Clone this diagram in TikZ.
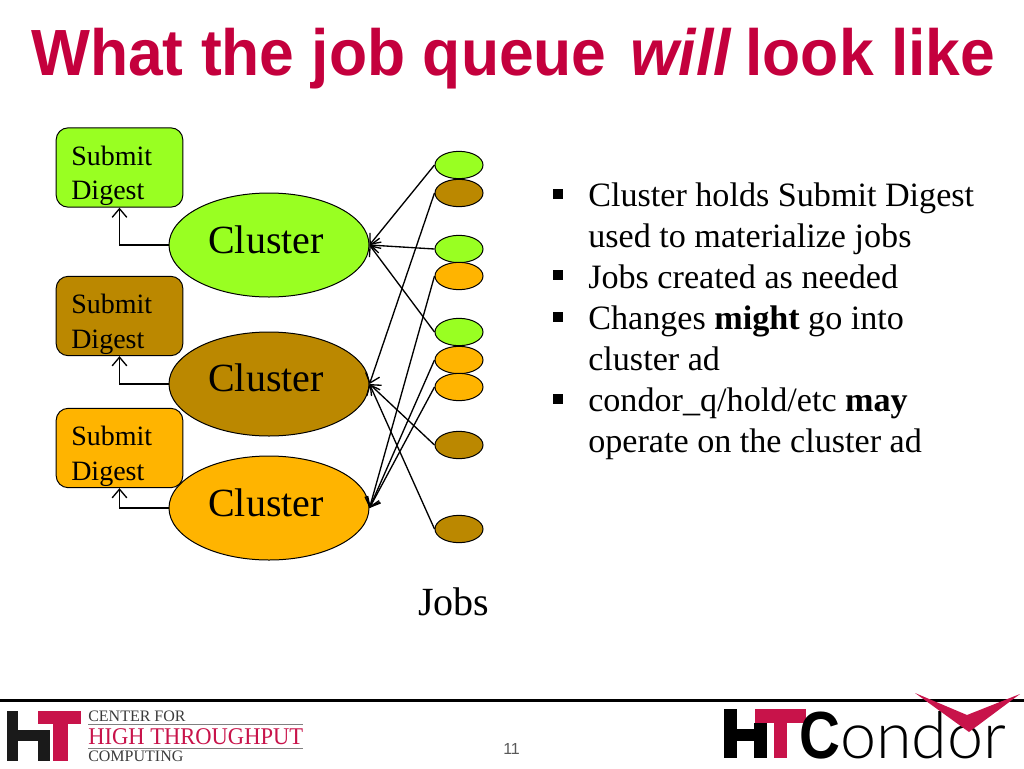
\documentclass[tikz,border=0pt]{standalone}
\usepackage{fontspec}
\setmainfont{Liberation Serif}
\newfontfamily\sansf{Liberation Sans}
\newfontfamily\lightf{Lato Light}
\usetikzlibrary{shapes.geometric,arrows.meta}
\definecolor{lime}{HTML}{99FF22}
\definecolor{ochre}{HTML}{BB8800}
\definecolor{amber}{HTML}{FFB400}
\definecolor{crimson}{HTML}{C4003D}
\definecolor{logored}{HTML}{C8134A}
\definecolor{logoblack}{HTML}{1A1A1A}
\tikzset{
 job/.style={ellipse,draw=black,line width=.75pt,minimum width=36pt,minimum height=20.5pt,inner sep=0pt},
 cluster/.style={ellipse,draw=black,line width=.75pt,minimum width=150pt,minimum height=78pt,inner sep=0pt},
 digest/.style={rectangle,rounded corners=9pt,draw=black,line width=.75pt,minimum width=95pt,minimum height=59.5pt,inner sep=0pt},
 txt/.style={anchor=base west,inner sep=0pt},
 dtext/.style={txt,font=\fontsize{21}{21}\selectfont},
 ctext/.style={txt,font=\fontsize{30}{30}\selectfont},
 btext/.style={txt,font=\fontsize{25.6}{25.6}\selectfont},
 bsq/.style={rectangle,fill=black,minimum size=7.5pt,inner sep=0pt},
 conn/.style={line width=1pt,-{Straight Barb[length=6.5pt,width=11pt,line width=1pt]}},
 logotxt/.style={txt,font=\fontsize{12}{12}\selectfont},
}
\begin{document}
\begin{tikzpicture}[x=0.75pt,y=-0.75pt]
\useasboundingbox (0,0) rectangle (1024,768);
\fill[white] (0,0) rectangle (1024,768);
% title
\node[txt,text=crimson,font=\sansf\bfseries\fontsize{49}{49}\selectfont] (title) at (31,75) {\scalebox{.955}[1]{What the job queue\hspace{5pt} \textit{will}\hspace{-3pt} look like}};
% digests
\node[digest,fill=lime] (d1) at (119.5,167.5) {};
\node[digest,fill=ochre] (d2) at (119.5,316) {};
\node[digest,fill=amber] (d3) at (119.5,448) {};
\node[dtext] (d1a) at (71,165) {Submit};
\node[dtext] (d1b) at (71,199) {Digest};
\node[dtext] (d2a) at (71,313) {Submit};
\node[dtext] (d2b) at (71,348) {Digest};
\node[dtext] (d3a) at (71,445) {Submit};
\node[dtext] (d3b) at (71,480) {Digest};
% clusters
\node[cluster,fill=lime] (c1) at (269,245) {};
\node[cluster,fill=ochre] (c2) at (269,384) {};
\node[cluster,fill=amber] (c3) at (269,508) {};
\node[ctext] (c1t) at (208,253) {Cluster};
\node[ctext] (c2t) at (208,391) {Cluster};
\node[ctext] (c3t) at (208,516) {Cluster};
% jobs
\node[job,fill=lime] (j1) at (459,165) {};
\node[job,fill=ochre] (j2) at (459,193) {};
\node[job,fill=lime] (j3) at (459,249) {};
\node[job,fill=amber] (j4) at (459,276) {};
\node[job,fill=lime] (j5) at (459,332) {};
\node[job,fill=amber] (j6) at (459,360) {};
\node[job,fill=amber] (j7) at (459,387) {};
\node[job,fill=ochre] (j8) at (459,445) {};
\node[job,fill=ochre] (j9) at (459,529) {};
\node[ctext] (jobs) at (418,615) {Jobs};
% connectors
\draw[conn] (j1.west) -- (c1.east);
\draw[conn] (j3.west) -- (c1.east);
\draw[conn] (j5.west) -- (c1.east);
\draw[conn] (j2.west) -- (c2.east);
\draw[conn] (j8.west) -- (c2.east);
\draw[conn] (j9.west) -- (c2.east);
\draw[conn] (j4.west) -- (c3.east);
\draw[conn] (j6.west) -- (c3.east);
\draw[conn] (j7.west) -- (c3.east);
\draw[conn] (c1.west) -| (d1.south);
\draw[conn] (c2.west) -| (d2.south);
\draw[conn] (c3.west) -| (d3.south);
% bullets
\node[bsq] (b1) at (557.5,193.5) {};
\node[bsq] (b2) at (557.5,275) {};
\node[bsq] (b3) at (557.5,316.5) {};
\node[bsq] (b4) at (557.5,398.5) {};
\node[btext] (l1) at (588,206) {Cluster holds Submit Digest};
\node[btext] (l2) at (588,247) {used to materialize jobs};
\node[btext] (l3) at (588,288) {Jobs created as needed};
\node[btext] (l4) at (588,329) {Changes \textbf{might} go into};
\node[btext] (l5) at (588,370) {cluster ad};
\node[btext] (l6) at (588,411) {condor\_q/hold/etc \textbf{may}};
\node[btext] (l7) at (588,452) {operate on the cluster ad};
% footer rule
\draw[black,line width=2.6pt] (0,700.5) -- (1024,700.5);
% left logo
\fill[logoblack] (7,711) rectangle (18,761);
\fill[logoblack] (18,730) rectangle (38,741);
\fill[logoblack] (38,730) rectangle (50,761);
\fill[logored] (38,711) rectangle (81,724);
\fill[logored] (53,711) rectangle (68,761);
\node[logotxt,text=logoblack!85] (lg1) at (88,721) {CENTER FOR};
\draw[gray,line width=.5pt] (88,724) -- (303,724);
\node[txt,text=logored,font=\fontsize{18}{18}\selectfont] (lg2) at (88,744) {\scalebox{.94}[1]{HIGH THROUGHPUT}};
\draw[gray,line width=.5pt] (88,748) -- (303,748);
\node[logotxt,text=logoblack!85] (lg3) at (88,761) {COMPUTING};
% page number
\node[txt,text=black!65,font=\sansf\fontsize{12}{12}\selectfont] (pg) at (503,754) {11};
% right logo
\fill[black] (724,709) rectangle (737,758);
\fill[black] (737,729) rectangle (754,741);
\fill[black] (754,723) rectangle (767,758);
\fill[logored] (755,709) rectangle (806,723);
\fill[logored] (774,709) rectangle (787,758);
\node[txt,font=\sansf\bfseries\fontsize{50}{50}\selectfont] (lgC) at (799,758) {\scalebox{.85}[1]{C}};
\node[txt,font=\lightf\fontsize{48.5}{48.5}\selectfont] (lgO) at (840,758) {ondor};
\fill[logored] (915,693) -- (967,715) -- (1020,694) -- (969,732) -- cycle;
\end{tikzpicture}
\end{document}
